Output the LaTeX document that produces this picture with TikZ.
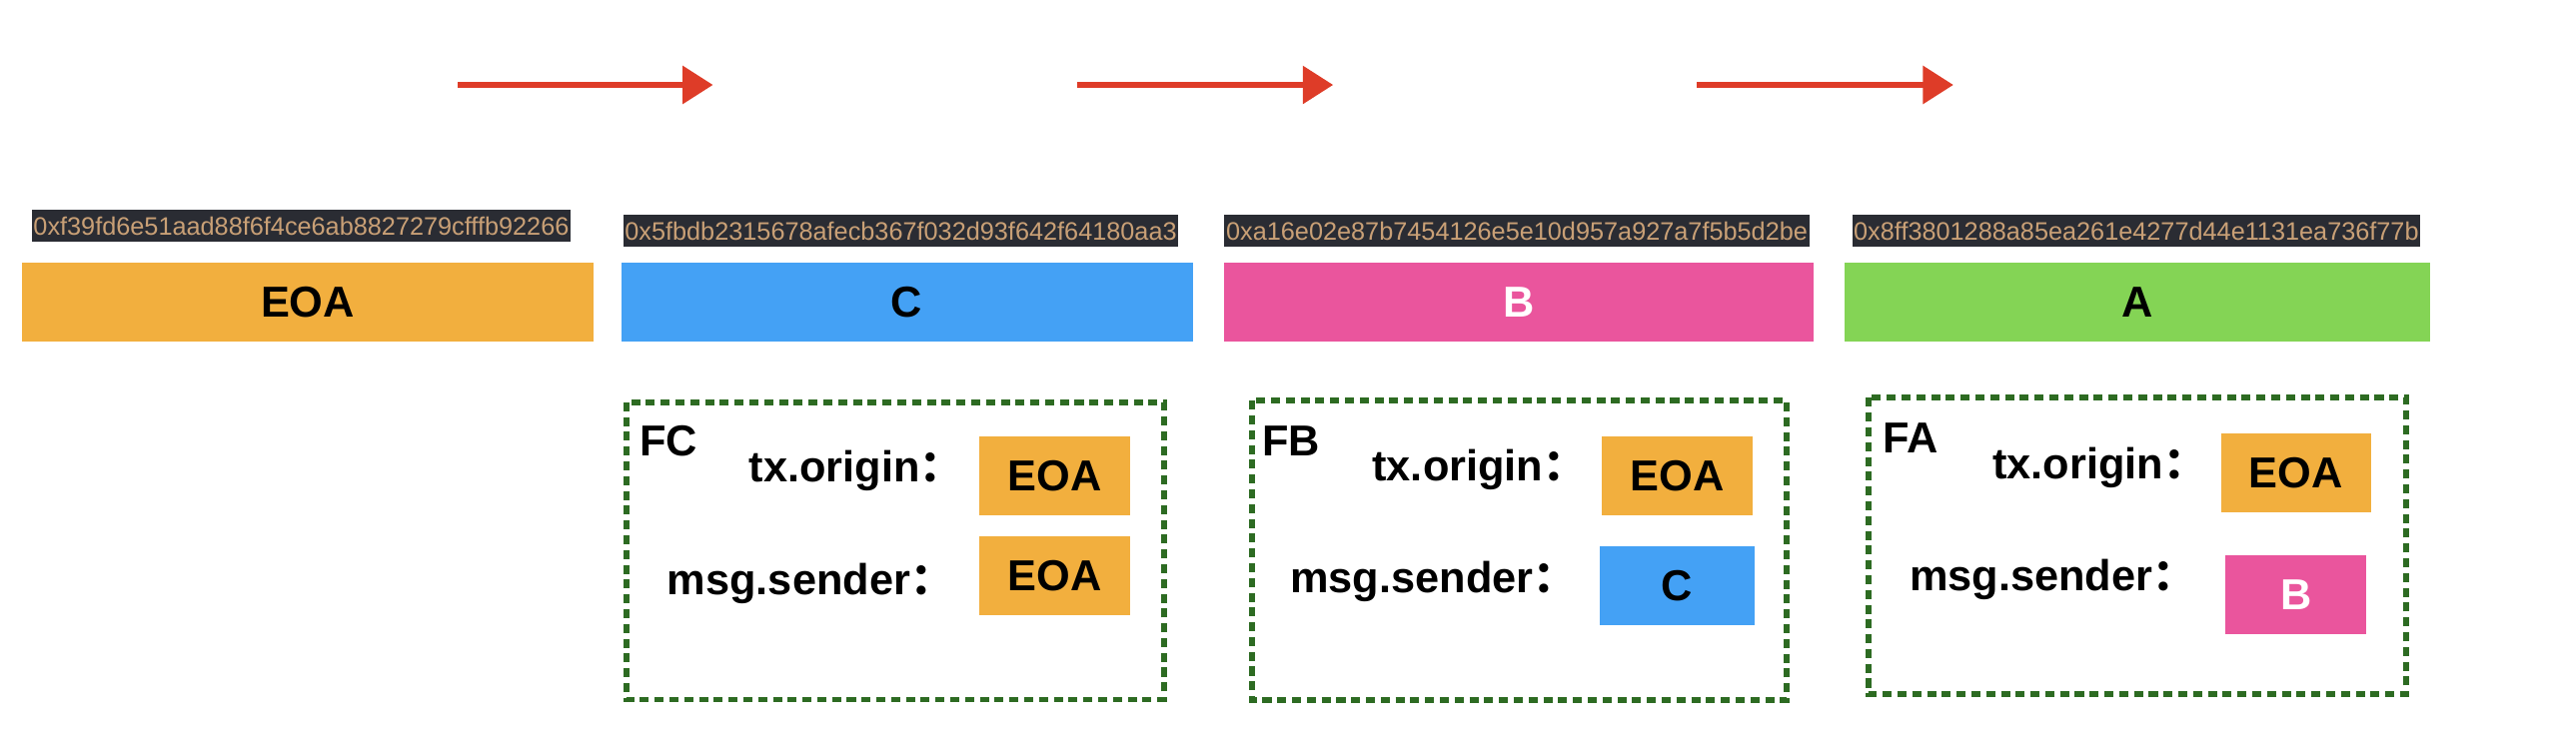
\documentclass[tikz,border=0pt]{standalone}
\usepackage{fontspec}
\setmainfont{Liberation Sans}
\newfontfamily\cjk{Noto Sans CJK SC}
\usetikzlibrary{arrows.meta}

\definecolor{CuentaEOA}{RGB}{242,175,62}
\definecolor{CuentaC}{RGB}{68,161,245}
\definecolor{CuentaB}{RGB}{234,85,157}
\definecolor{CuentaA}{RGB}{132,212,85}
\definecolor{FondoDireccion}{RGB}{42,44,51}
\definecolor{TextoDireccion}{RGB}{201,160,118}
\definecolor{FlechaLlamada}{RGB}{222,60,40}
\definecolor{MarcoLlamada}{RGB}{45,107,34}

\tikzset{
  direccion/.style={fill=FondoDireccion, text=TextoDireccion, anchor=west,
    inner xsep=0.02cm, inner ysep=0pt, minimum height=0.38cm,
    font=\fontsize{8.75}{10}\selectfont},
  cuenta/.style={minimum height=0.96cm, inner sep=0pt,
    font=\fontsize{15}{18}\selectfont\bfseries},
  etiqueta/.style={anchor=base west, inner sep=0pt,
    font=\fontsize{15}{18}\selectfont\bfseries},
  marco/.style={draw=MarcoLlamada, line width=2pt,
    dash pattern=on 0.11cm off 0.07cm},
  llamada/.style={draw=FlechaLlamada, line width=2.1pt,
    -{Triangle[length=0.37cm, width=0.45cm]}},
}

\begin{document}
\begin{tikzpicture}[x=0.02cm, y=-0.02cm]

\useasboundingbox (0, 0) rectangle (1568, 453.7);

% Puntos de las flechas de llamada.
\coordinate (I1) at (278.6, 51.7);
\coordinate (F1) at (434, 51.7);
\coordinate (I2) at (655.5, 51.7);
\coordinate (F2) at (811.5, 51.7);
\coordinate (I3) at (1033, 51.7);
\coordinate (F3) at (1189, 51.7);

% Dibujar las flechas de llamada.
\draw[llamada] (I1) -- (F1);
\draw[llamada] (I2) -- (F2);
\draw[llamada] (I3) -- (F3);

% Direcciones de cada cuenta.
\node[direccion] (dirEOA) at (19, 137.5) {0xf39fd6e51aad88f6f4ce6ab8827279cfffb92266};
\node[direccion] (dirC) at (379, 140.5) {0x5fbdb2315678afecb367f032d93f642f64180aa3};
\node[direccion] (dirB) at (745, 140.5) {0xa16e02e87b7454126e5e10d957a927a7f5b5d2be};
\node[direccion] (dirA) at (1127, 140.5) {0x8ff3801288a85ea261e4277d44e1131ea736f77b};

% Barras de las cuentas.
\node[cuenta, fill=CuentaEOA, minimum width=6.95cm] (EOA) at (187.3, 184) {EOA};
\node[cuenta, fill=CuentaC, minimum width=6.96cm] (C) at (552, 184) {C};
\node[cuenta, fill=CuentaB, text=white, minimum width=7.18cm] (B) at (924.5, 184) {B};
\node[cuenta, fill=CuentaA, minimum width=7.12cm] (A) at (1301, 184) {A};

% Marcos de cada llamada, luego los textos dentro.
\draw[marco] (381.5, 245) rectangle (708.5, 426);
\draw[marco] (762, 244) rectangle (1087.5, 426.5);
\draw[marco] (1137.4, 242.3) rectangle (1464.7, 422.7);

% Marco FC
\node[etiqueta] (FC) at (389, 277.8) {FC};
\node[etiqueta] (origenFC) at (455.6, 293.6) {tx.origin\cjk{：}};
\node[etiqueta] (emisorFC) at (405.8, 362) {msg.sender\cjk{：}};
\node[cuenta, fill=CuentaEOA, minimum width=1.84cm] (valorOrigenFC) at (642, 290) {EOA};
\node[cuenta, fill=CuentaEOA, minimum width=1.84cm] (valorEmisorFC) at (642, 350.5) {EOA};

% Marco FB
\node[etiqueta] (FB) at (768, 277.6) {FB};
\node[etiqueta] (origenFB) at (835, 292.8) {tx.origin\cjk{：}};
\node[etiqueta] (emisorFB) at (785, 360.7) {msg.sender\cjk{：}};
\node[cuenta, fill=CuentaEOA, minimum width=1.84cm] (valorOrigenFB) at (1021, 289.8) {EOA};
\node[cuenta, fill=CuentaC, minimum width=1.89cm] (valorEmisorFB) at (1020.9, 356.7) {C};

% Marco FA
\node[etiqueta] (FA) at (1145.8, 275.7) {FA};
\node[etiqueta] (origenFA) at (1212.6, 291.6) {tx.origin\cjk{：}};
\node[etiqueta] (emisorFA) at (1162, 359.9) {msg.sender\cjk{：}};
\node[cuenta, fill=CuentaEOA, minimum width=1.83cm] (valorOrigenFA) at (1397.5, 288) {EOA};
\node[cuenta, fill=CuentaB, text=white, minimum width=1.72cm] (valorEmisorFA) at (1397.5, 362.3) {B};

\end{tikzpicture}
\end{document}
